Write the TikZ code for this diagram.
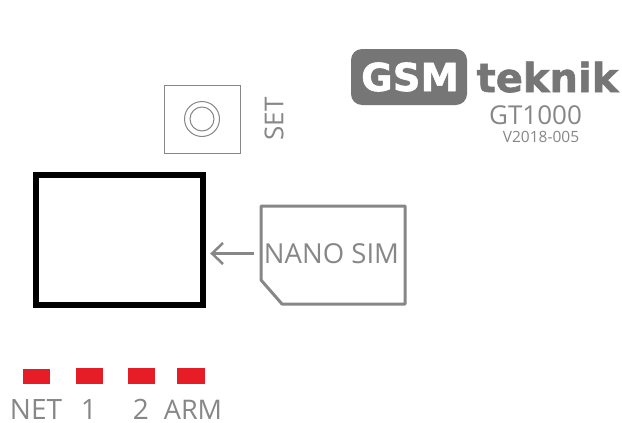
\documentclass[tikz,border=0pt]{standalone}
\usepackage{fontspec}
\setmainfont{Open Sans}
\newfontfamily\logofont[FakeBold=1.5]{DejaVu Sans Bold}
\definecolor{sgray}{RGB}{135,135,135}
\definecolor{lgray}{RGB}{118,118,118}
\definecolor{ledred}{RGB}{230,28,38}
\newcommand{\fs}[1]{\fontsize{#1}{#1}\selectfont}
\begin{document}
\begin{tikzpicture}[x=1pt,y=-1pt,
  txt/.style={text=sgray,inner sep=0pt,anchor=base},
  led/.style={fill=ledred,draw=none}]
\useasboundingbox (0,0) rectangle (622,423);
\fill[white] (0,0) rectangle (622,423);
% logo
\fill[lgray,rounded corners=11pt] (351,49) rectangle (467,105);
\node[inner sep=0pt,anchor=base,text=white] (gsm) at (410,91) {\logofont\fs{38.5}GSM};
\node[txt,text=lgray] (tek) at (547.5,92) {\logofont\fs{40}teknik};
\node[txt] (gt) at (535.5,124) {\fs{26}GT1000};
\node[txt] (ver) at (541,142) {\fs{15.5}V2018-005};
% set
\draw[sgray,line width=1pt] (164,85) rectangle (240,153);
\draw[sgray,line width=1pt] (202,119) circle (17.5) circle (12);
\node[text=sgray,inner sep=0pt,rotate=90] (set) at (274,119) {\fs{26}SET};
% holder
\draw[black,line width=6pt] (36,175) rectangle (203,305);
% sim
\draw[sgray,line width=3pt,line join=round] (261,206) -- (405,206) -- (405,304) -- (282,304) -- (261,280) -- cycle;
\node[text=sgray,inner sep=0pt] (nano) at (331.5,254) {\fs{27.5}NANO SIM};
\coordinate (as) at (254,253.5);
\coordinate (ae) at (212,253.5);
\draw[sgray,line width=2.5pt] (as) -- (ae);
\draw[sgray,line width=2.5pt] (223,243) -- (ae) -- (223,264);
% leds
\fill[led] (23,369) rectangle (50,384);
\fill[led] (76,368) rectangle (103,384);
\fill[led] (128,368) rectangle (155,384);
\fill[led] (177,368) rectangle (205,384);
\node[txt] (net) at (36,419) {\fs{28}NET};
\node[txt] (one) at (89,419) {\fs{28}1};
\node[txt] (two) at (141,419) {\fs{28}2};
\node[txt] (arm) at (193,419) {\fs{27}ARM};
\end{tikzpicture}
\end{document}
